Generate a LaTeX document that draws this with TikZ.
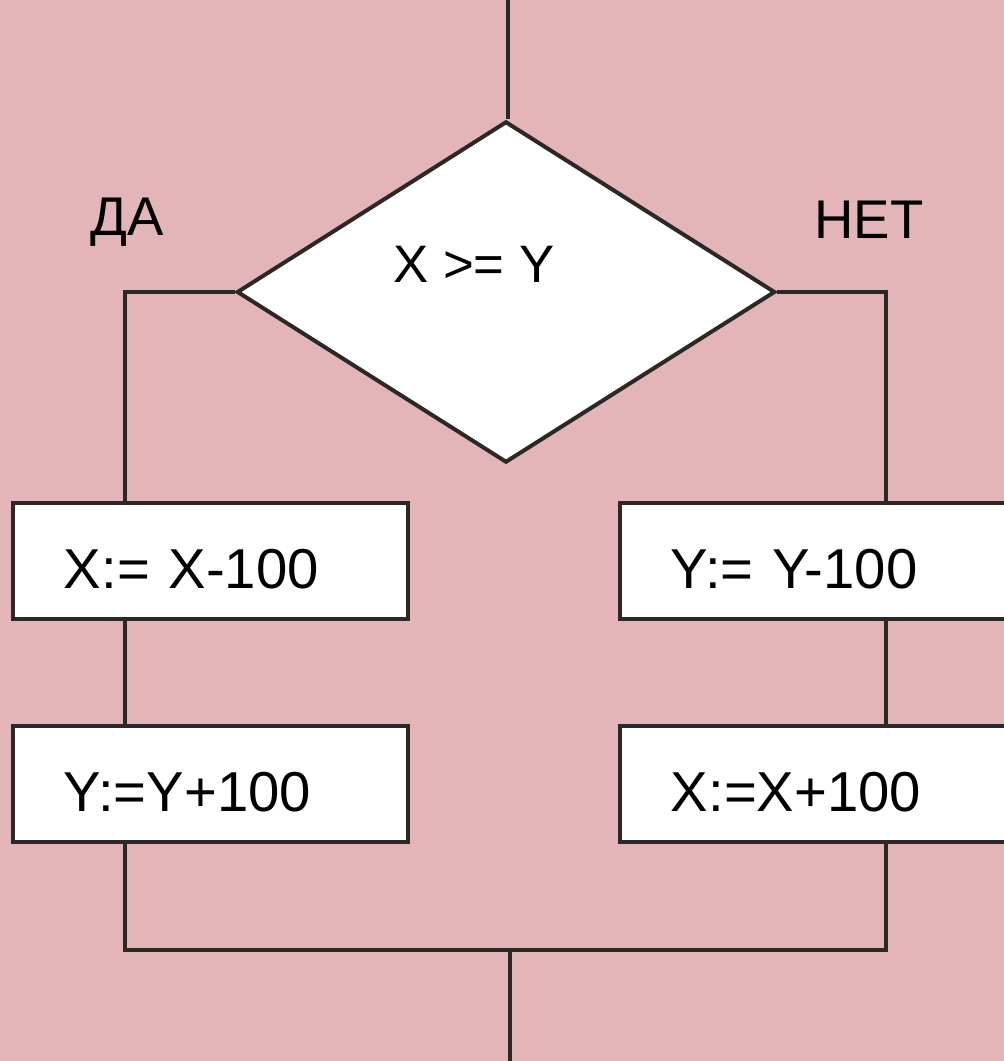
\documentclass[tikz,border=0pt]{standalone}
\usepackage{fontspec}
\setmainfont{Liberation Sans}
\usetikzlibrary{shapes.geometric}

\definecolor{paper}{RGB}{227,180,184}
\definecolor{ink}{RGB}{45,40,40}

\tikzset{
  flow/.style={draw=ink, line width=0.04cm},
  decision/.style={shape=diamond, draw=ink, fill=white, line width=0.04cm,
    minimum width=5.38cm, minimum height=3.41cm, inner sep=0pt},
  action/.style={shape=rectangle, draw=ink, fill=white, line width=0.04cm,
    minimum height=1.16cm, inner xsep=0.51cm, align=left,
    text height=0.55cm, font=\fontsize{16}{19}\selectfont},
  branch/.style={font=\fontsize{15.5}{18}\selectfont}
}

\begin{document}
\begin{tikzpicture}[x=0.01cm, y=-0.01cm]
    \fill[paper] (0,0) rectangle (1004,1061);
    \clip (0,0) rectangle (1004,1061);

    % condition
    \node[decision] (cond) at (506,292) {};
    \node[font=\fontsize{15}{18}\selectfont] (condtext) at (474,264) {X >= Y};
    \node[branch] (yes) at (127,222) {ДА};
    \node[branch] (no) at (869,220) {НЕТ};

    % actions
    \node[action, text width=2.93cm] (xm) at (210.5,561) {X:= X-100};
    \node[action, text width=2.93cm] (yp) at (210.5,784) {Y:=Y+100};
    \node[action, text width=3.98cm] (ym) at (870,561) {Y:= Y-100};
    \node[action, text width=3.98cm] (xp) at (870,784) {X:=X+100};

    \coordinate (in) at (508,0);
    \coordinate (yescol) at (125,292);
    \coordinate (nocol) at (886,292);
    \coordinate (join) at (510,950);
    \coordinate (out) at (510,1061);

    % connectors
    \draw[flow] (in) -- (in |- cond.north);
    \draw[flow] (cond.west) -- (yescol) -- (yescol |- xm.north);
    \draw[flow] (cond.east) -- (nocol) -- (nocol |- ym.north);
    \draw[flow] (xm.south -| yescol) -- (yescol |- yp.north);
    \draw[flow] (ym.south -| nocol) -- (nocol |- xp.north);
    \draw[flow] (yp.south -| yescol) -- (yescol |- join) -- (nocol |- join) -- (nocol |- xp.south);
    \draw[flow] (join) -- (out);
\end{tikzpicture}
\end{document}
